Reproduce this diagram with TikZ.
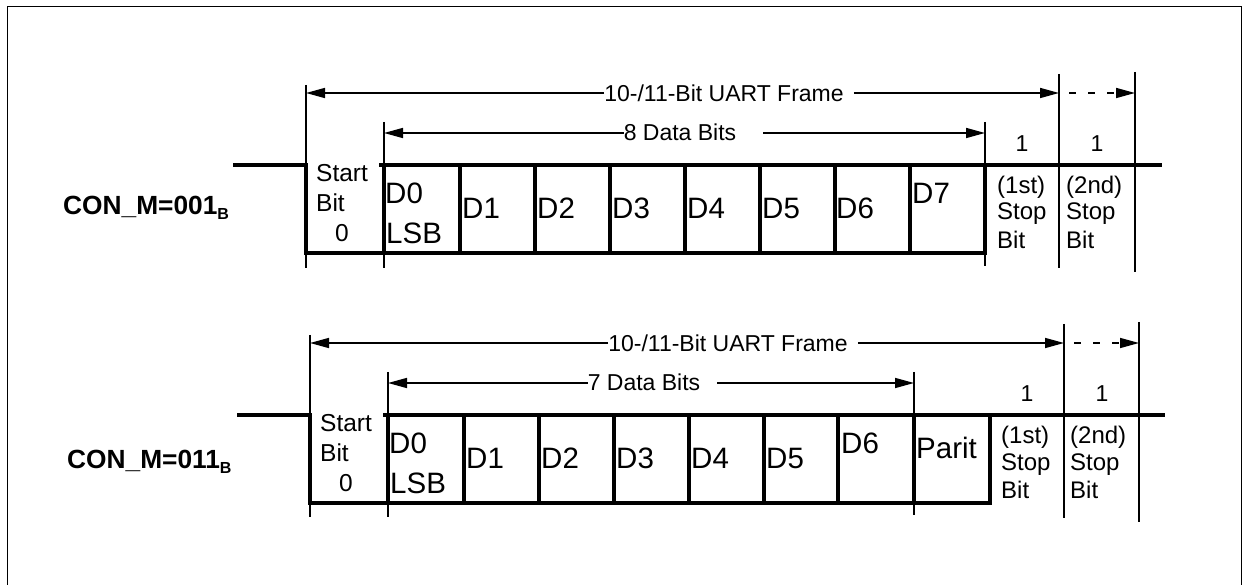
\documentclass[tikz,border=0pt]{standalone}
\usepackage{fontspec}
\setmainfont{Liberation Sans}
\usetikzlibrary{arrows.meta}
\begin{document}
\begin{tikzpicture}[x=1pt,y=-1pt,
  sig/.style={line width=3.2pt},
  tickln/.style={line width=1.6pt},
  dim/.style={line width=1.6pt,-{Triangle[length=19pt,width=10pt]}},
  dimtext/.style={inner sep=0pt,anchor=base,font=\fontsize{23}{23}\selectfont},
  celltext/.style={inner sep=0pt,anchor=base west,font=\fontsize{24.5}{24.5}\selectfont},
  bittext/.style={inner sep=0pt,anchor=base west,font=\fontsize{29.5}{29.5}\selectfont},
  stoptext/.style={inner sep=0pt,anchor=base west,font=\fontsize{24}{24}\selectfont},
  conlbl/.style={inner sep=0pt,anchor=base west,font=\bfseries\fontsize{26.3}{26.3}\selectfont}]
\useasboundingbox (0,0) rectangle (1243,585);
\draw[line width=1pt] (7,600) -- (7,7) -- (1241.5,7) -- (1241.5,600);

% ---------------- Row A: CON_M=001 ----------------
\begin{scope}
\node[conlbl] (conA) at (63,215) {CON\_M=001\raisebox{-5pt}{\fontsize{16}{16}\selectfont B}};
% waveform
\draw[sig] (233,165) -- (306,165) -- (306,253) -- (985,253) -- (985,165);
\draw[sig] (379,165) -- (1162,165);
\foreach \x in {384,460,535,610,685,760,835,910}
  \draw[sig] (\x,165) -- (\x,253);
% ticks
\draw[tickln] (306,85) -- (306,268);
\draw[tickln] (384,122) -- (384,268);
\draw[tickln] (985,122) -- (985,266);
\draw[tickln] (1059,74) -- (1059,268);
\draw[tickln] (1135,72) -- (1135,272);
% dimension arrows
\coordinate (fAl) at (306,93);
\coordinate (fAr) at (1059,93);
\coordinate (fAd) at (1135,93);
\coordinate (dAl) at (384,133);
\coordinate (dAr) at (985,133);
\node[dimtext] (fA) at (724,101.7) {10-/11-Bit UART Frame};
\node[dimtext] (dA) at (680,140.7) {8 Data Bits};
\draw[dim] (fA.west|-fAl) -- (fAl);
\draw[dim] ([xshift=10pt]fA.east|-fAr) -- (fAr);
\draw[dim,dash pattern=on 7pt off 12pt] ([xshift=10pt]fAr) -- (fAd);
\draw[dim] (dA.west|-dAl) -- (dAl);
\draw[dim] ([xshift=27pt]dA.east|-dAr) -- (dAr);
\node[dimtext] (oneA1) at (1022,151.7) {1};
\node[dimtext] (oneA2) at (1097,151.7) {1};
% cell texts
\node[celltext] (stA1) at (316,181.7) {Start};
\node[celltext] (stA2) at (316,211.7) {Bit};
\node[inner sep=0pt,anchor=base,font=\fontsize{24.5}{24.5}\selectfont] (stA3) at (342,241.7) {0};
\node[bittext] (d0A) at (385,203.3) {D0};
\node[bittext] (lsbA) at (386,243.3) {LSB};
\node[bittext] (d1A) at (462,218.3) {D1};
\node[bittext] (d2A) at (537,218.3) {D2};
\node[bittext] (d3A) at (612,218.3) {D3};
\node[bittext] (d4A) at (687,218.3) {D4};
\node[bittext] (d5A) at (762,218.3) {D5};
\node[bittext] (d6A) at (836,218.3) {D6};
\node[bittext] (d7A) at (912,203.3) {D7};
\node[stoptext] (s1aA) at (997,193.3) {(1st)};
\node[stoptext] (s1bA) at (997,220) {Stop};
\node[stoptext] (s1cA) at (997,248.3) {Bit};
\node[stoptext] (s2aA) at (1066,193.3) {(2nd)};
\node[stoptext] (s2bA) at (1066,220) {Stop};
\node[stoptext] (s2cA) at (1066,248.3) {Bit};
\end{scope}

% ---------------- Row B: CON_M=011 ----------------
\begin{scope}[shift={(4,250)}]
\node[conlbl] (conB) at (63,218) {CON\_M=011\raisebox{-5pt}{\fontsize{16}{16}\selectfont B}};
\draw[sig] (233,165) -- (306,165) -- (306,253) -- (986,253) -- (986,165);
\draw[sig] (379,165) -- (1161,165);
\foreach \x in {384,460,535,610,685,760,834,910}
  \draw[sig] (\x,165) -- (\x,253);
\draw[tickln] (306,85) -- (306,267);
\draw[tickln] (384,122) -- (384,267);
\draw[tickln] (910,122) -- (910,265);
\draw[tickln] (1060,74) -- (1060,268);
\draw[tickln] (1135,72) -- (1135,272);
\coordinate (fBl) at (306,93);
\coordinate (fBr) at (1060,93);
\coordinate (fBd) at (1135,93);
\coordinate (dBl) at (384,133);
\coordinate (dBr) at (910,133);
\node[dimtext] (fB) at (724,101.7) {10-/11-Bit UART Frame};
\node[dimtext] (dB) at (640,140.7) {7 Data Bits};
\draw[dim] (fB.west|-fBl) -- (fBl);
\draw[dim] ([xshift=10pt]fB.east|-fBr) -- (fBr);
\draw[dim,dash pattern=on 7pt off 12pt] ([xshift=10pt]fBr) -- (fBd);
\draw[dim] (dB.west|-dBl) -- (dBl);
\draw[dim] ([xshift=17pt]dB.east|-dBr) -- (dBr);
\node[dimtext] (oneB1) at (1023,151.7) {1};
\node[dimtext] (oneB2) at (1098,151.7) {1};
\node[celltext] (stB1) at (316,181.7) {Start};
\node[celltext] (stB2) at (316,211.7) {Bit};
\node[inner sep=0pt,anchor=base,font=\fontsize{24.5}{24.5}\selectfont] (stB3) at (342,241.7) {0};
\node[bittext] (d0B) at (385,203.3) {D0};
\node[bittext] (lsbB) at (386,243.3) {LSB};
\node[bittext] (d1B) at (462,218.3) {D1};
\node[bittext] (d2B) at (537,218.3) {D2};
\node[bittext] (d3B) at (612,218.3) {D3};
\node[bittext] (d4B) at (687,218.3) {D4};
\node[bittext] (d5B) at (762,218.3) {D5};
\node[bittext] (d6B) at (837,203.3) {D6};
\node[bittext] (parB) at (912,208.3) {Parit};
\node[stoptext] (s1aB) at (997,193.3) {(1st)};
\node[stoptext] (s1bB) at (997,220) {Stop};
\node[stoptext] (s1cB) at (997,248.3) {Bit};
\node[stoptext] (s2aB) at (1066,193.3) {(2nd)};
\node[stoptext] (s2bB) at (1066,220) {Stop};
\node[stoptext] (s2cB) at (1066,248.3) {Bit};
\end{scope}
\end{tikzpicture}
\end{document}
